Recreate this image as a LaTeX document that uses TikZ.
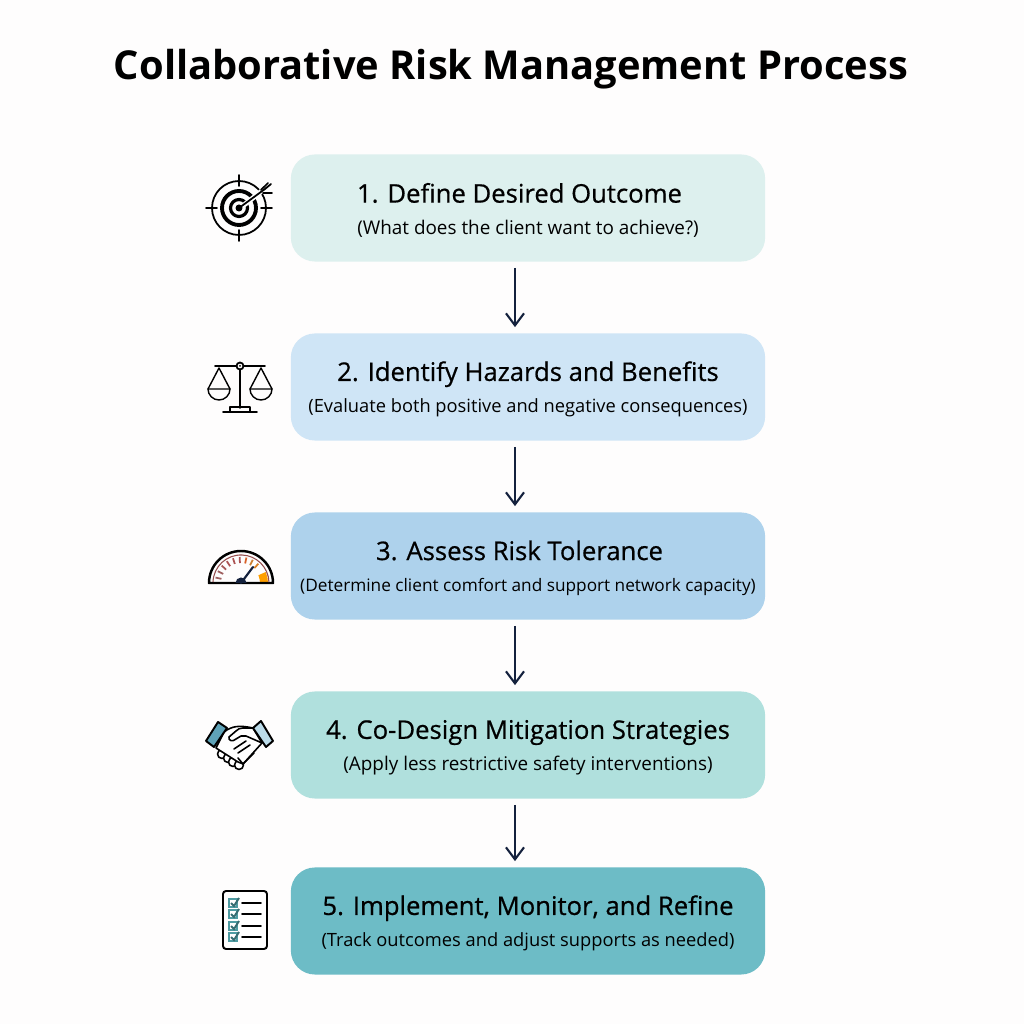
\documentclass[tikz,border=0pt]{standalone}
\usepackage{fontspec}
\setmainfont{Open Sans}
\newfontfamily\headfam[FakeBold=0.6]{Open Sans}
\usetikzlibrary{arrows.meta,calc}
\definecolor{ink}{HTML}{14213D}
\definecolor{paper}{HTML}{FEFDFD}
\definecolor{stepa}{HTML}{DDF0EE}
\definecolor{stepb}{HTML}{CFE5F6}
\definecolor{stepc}{HTML}{AED2EC}
\definecolor{stepd}{HTML}{B0E0DD}
\definecolor{stepe}{HTML}{6DBCC6}
\definecolor{cuffa}{HTML}{5FA3B8}
\definecolor{cuffb}{HTML}{BCDCEA}
\definecolor{tick}{HTML}{4F9CA3}
\tikzset{
  stepbox/.style={fill=#1, rounded corners=0.24cm, minimum width=4.74cm, minimum height=1.07cm,
    inner sep=0pt, align=center, text=black},
  steparrow/.style={-{Straight Barb[length=1.2mm,width=1.8mm]}, draw=ink, line width=0.6pt, shorten >=1.6pt, shorten <=1.6pt},
  iconline/.style={draw=black, line width=0.5pt, line cap=round, line join=round},
}
\newcommand{\headfont}{\headfam\fontsize{7.3}{8}\selectfont\rule{0pt}{6.8pt}}
\newcommand{\subfont}{\fontsize{5.2}{6}\selectfont}
\newcommand{\widefont}{\fontsize{5.37}{6}\selectfont}
\begin{document}
\begin{tikzpicture}[x=0.01cm,y=0.01cm]
  \useasboundingbox[fill=paper] (0,0) rectangle (1024,1024);
  % Title
  \node (title) at (511,955) {\fontsize{11.33}{14}\selectfont\bfseries Collaborative Risk Management Process};
  % Draw steps
  \node[stepbox=stepa] (define) at (528,816) {\headfont 1. Define Desired Outcome\hspace*{0.17cm}\\[-3pt]\widefont (What does the client want to achieve?)};
  \node[stepbox=stepb] (identify) at (528,637) {\headfont 2. Identify Hazards and Benefits\\[-3pt]\subfont (Evaluate both positive and negative consequences)};
  \node[stepbox=stepc] (assess) at (528,458) {\headfont 3. Assess Risk Tolerance\hspace*{0.17cm}\\[-3pt]\fontsize{4.9}{6}\selectfont (Determine client comfort and support network capacity)};
  \node[stepbox=stepd] (design) at (528,279) {\headfont 4. Co-Design Mitigation Strategies\\[-3pt]\widefont (Apply less restrictive safety interventions)};
  \node[stepbox=stepe] (refine) at (528,103) {\headfont 5. Implement, Monitor, and Refine\\[-3pt]\subfont (Track outcomes and adjust supports as needed)};
  % Draw arrows
  \draw[steparrow] (define.south -| 515,0) -- (identify.north -| 515,0);
  \draw[steparrow] (identify.south -| 515,0) -- (assess.north -| 515,0);
  \draw[steparrow] (assess.south -| 515,0) -- (design.north -| 515,0);
  \draw[steparrow] (design.south -| 515,0) -- (refine.north -| 515,0);
  % Target
  \begin{scope}[shift={(239,816)}]
    \draw[iconline] (0,0) circle (27);
    \draw[iconline,line width=1.1pt] (0,0) circle (17);
    \draw[iconline,line width=0.9pt] (0,0) circle (8.5);
    \fill (0,0) circle (3.5);
    \foreach \a in {0,90,180,270}
      \draw[iconline] (\a:22) -- (\a:33);
    \draw[iconline,draw=white,line width=1.4pt] (5,3) -- (24,18);
    \draw[iconline] (0,0) -- (26,19);
    \draw[iconline] (24,15) -- (33,15) (22,18) -- (29,25) (26,19) -- (32,24);
  \end{scope}
  % Scale
  \begin{scope}[shift={(240,658)}]
    \draw[iconline] (-25,0) -- (-3.5,0) (3.5,0) -- (25,0);
    \draw[iconline] (0,0) circle (3.5);
    \fill (0,0) circle (1);
    \draw[iconline] (0,-3.5) -- (0,-42);
    \draw[iconline] (-10,-46) rectangle (10,-41);
    \draw[iconline] (-17,-46) -- (17,-46);
    \foreach \s in {-1,1} {
      \draw[iconline,line width=0.4pt] (\s*21-11,-23) -- (\s*21,-2) -- (\s*21+11,-23);
      \draw[iconline,line width=0.4pt] (\s*21-11,-23) -- (\s*21+11,-23) arc (0:-180:11);
    }
  \end{scope}
  % Gauge
  \begin{scope}[shift={(241,441)}]
    \foreach \a/\c in {168/red!25!gray,153/red!25!gray,138/red!30!gray,123/red!35!gray,108/red!35!gray,93/red!35!gray,78/red!35!orange!70!gray,63/orange!60!gray,48/orange!70!gray}
      \draw[\c,line width=0.5pt] (\a:20) -- (\a:26);
    \fill[orange!75!yellow] (19,0) -- (27,0) arc (0:24:27) -- (24:19) arc (24:0:19) -- cycle;
    \draw[iconline,line width=0.7pt] (-32,0) arc (180:0:32) -- cycle;
    \draw[red!40!black!70!white,line width=0.3pt] (-28,1) arc (178:2:28);
    \fill[ink] (-5.5,0) arc (180:0:5.5) -- cycle;
    \draw[iconline,ink,line width=0.6pt] (0,0) -- (12,16);
  \end{scope}
  % Handshake
  \begin{scope}[shift={(240,289)}]
    \foreach \p in {(-18,-19),(-12,-23),(-7,-27),(-1,-30)}
      \draw[iconline,fill=white,line width=0.45pt] \p circle (4.5);
    \draw[iconline,fill=white,line width=0.45pt] (-16,3) .. controls (-8,9) and (-1,10) .. (13,7)
      -- (22,-8) -- (3,-29) -- (-2,-27) -- (-24,-13) -- cycle;
    \draw[iconline,line width=0.45pt] (13,7) -- (3,7) .. controls (0,7) and (-2,6) .. (-4,4)
      -- (-11,-2) .. controls (-12,-6) and (-7,-7) .. (-4,-4) -- (1,-1) -- (6,-1) -- (22,-8);
    \draw[iconline,line width=0.45pt] (3,-29) -- (-2,-23) (3,-29) -- (14,-18) (-2,-18) -- (10,-10) (-6,-14) -- (6,-6);
    \draw[iconline,fill=cuffa,line width=0.55pt] (-34,-6) -- (-22,13) -- (-13,7) -- (-26,-12) -- cycle;
    \draw[iconline,fill=cuffb,line width=0.55pt] (13,7) -- (21,14) -- (33,-6) -- (26,-12) -- cycle;
  \end{scope}
  % Checklist
  \begin{scope}[shift={(245,104)}]
    \draw[iconline,rounded corners=0.03cm,fill=white,line width=0.55pt] (-22,-29) rectangle (22,29);
    \foreach \y in {17,6,-6,-17} {
      \draw[tick,line width=0.4pt] (-16,\y-4) rectangle (-8,\y+4);
      \draw[tick!70!black,line width=0.55pt] (-14,\y) -- (-11,\y-3) -- (-6,\y+5);
      \draw[iconline] (-3,\y) -- (16,\y);
    }
  \end{scope}
\end{tikzpicture}
\end{document}
